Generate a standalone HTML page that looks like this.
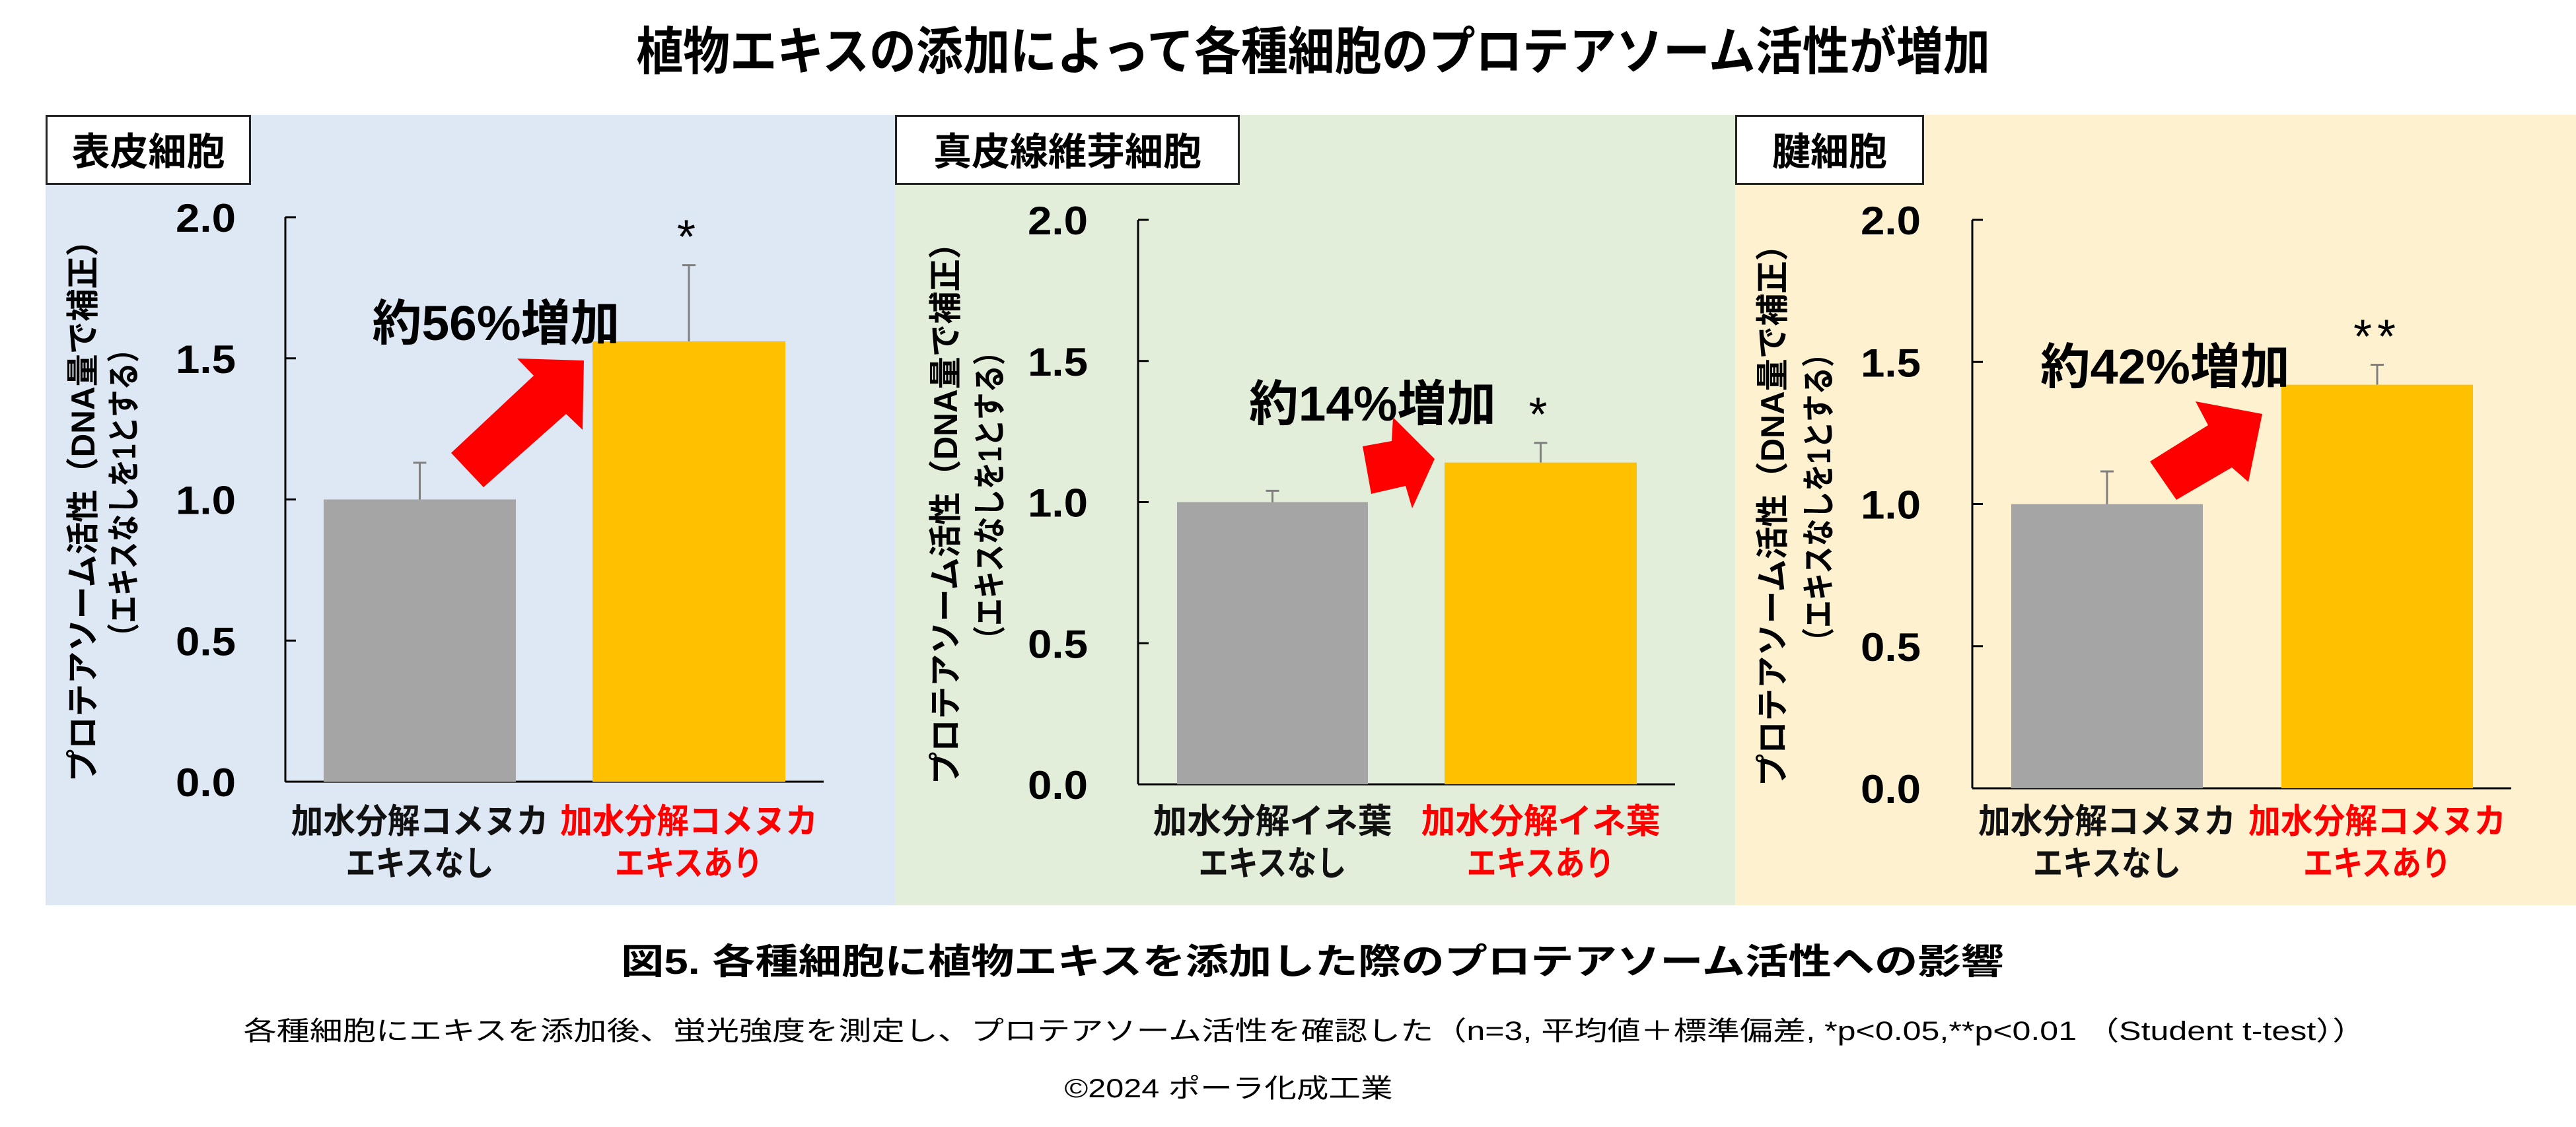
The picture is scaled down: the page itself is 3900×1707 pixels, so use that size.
<!DOCTYPE html>
<html><head><meta charset="utf-8">
<style>
html,body{margin:0;padding:0;background:#fff;}
svg{display:block;font-family:"Liberation Sans","Noto Sans CJK JP",sans-serif;}
</style></head>
<body>
<svg id="chart" width="3900" height="1707" viewBox="0 0 3900 1707" xmlns="http://www.w3.org/2000/svg">
<text x="1988" y="105" font-size="78" font-weight="bold" text-anchor="middle" textLength="2050" lengthAdjust="spacingAndGlyphs">植物エキスの添加によって各種細胞のプロテアソーム活性が増加</text>
<g id="panels"></g>
<text x="1987" y="1475" font-size="54" font-weight="bold" text-anchor="middle" textLength="2094" lengthAdjust="spacingAndGlyphs">図5. 各種細胞に植物エキスを添加した際のプロテアソーム活性への影響</text>
<text x="1975" y="1575" font-size="40" text-anchor="middle" textLength="3213" lengthAdjust="spacingAndGlyphs">各種細胞にエキスを添加後、蛍光強度を測定し、プロテアソーム活性を確認した（n=3, 平均値＋標準偏差, *p&lt;0.05,**p&lt;0.01 （Student t-test））</text>
<text x="1860" y="1662" font-size="40" text-anchor="middle" textLength="497" lengthAdjust="spacingAndGlyphs">©2024 ポーラ化成工業</text>
</svg>
<script>
const panelTitles = ["表皮細胞", "真皮線維芽細胞", "腱細胞"];
const catTop = [["加水分解コメヌカ","加水分解コメヌカ"],["加水分解イネ葉","加水分解イネ葉"],["加水分解コメヌカ","加水分解コメヌカ"]];
const catBottom = ["エキスなし","エキスあり"];
const valuesCtrl = [1.0, 1.0, 1.0];
const valuesExt = [1.56, 1.14, 1.42];
const errCtrl = [0.13, 0.04, 0.115];
const errExt = [0.27, 0.07, 0.07];
const sigMarks = ["*", "*", "**"];
const increaseLabels = ["約56%増加", "約14%増加", "約42%増加"];
const yTicks = [0, 0.5, 1.0, 1.5, 2.0];
const yTickLabels = ["0.0", "0.5", "1.0", "1.5", "2.0"];

const layout = [
 {bg:"#dde8f4", bgL:69, bgR:1355, box:[69,380], ax:432, axEnd:1247, y0:1184, y2:329, b1:[490,781], b2:[897,1189], tickR:357, t1:125, t2:187, ann:[751,487,375], catW:[390,390], arrow:[[683,686],[808,569],[783,543],[884,546],[882,651],[857,627],[732,738]]},
 {bg:"#e2eed9", bgL:1355, bgR:2627, box:[1355,1877], ax:1723, axEnd:2536, y0:1188, y2:333, b1:[1782,2071], b2:[2187,2478], tickR:1647, t1:1431, t2:1498, ann:[2078,609,374], catW:[362,362], arrow:[[2063,676],[2107,668],[2109,632],[2172,695],[2138,770],[2128,736],[2076,748]]},
 {bg:"#fdf1d0", bgL:2627, bgR:3900, box:[2627,2913], ax:2986, axEnd:3802, y0:1194, y2:333, b1:[3045,3335], b2:[3454,3744], tickR:2908, t1:2683, t2:2753, ann:[3278,553,378], catW:[390,390], arrow:[[3255,699],[3343,644],[3324,608],[3425,627],[3404,730],[3379,708],[3295,757]]}
];
const NS="http://www.w3.org/2000/svg";
const root=document.getElementById('panels');
function mk(tag, attrs, parent, text){
  const e=document.createElementNS(NS,tag);
  for(const k in attrs) e.setAttribute(k, attrs[k]);
  if(text!==undefined) e.textContent=text;
  parent.appendChild(e); return e;
}
layout.forEach((L,i)=>{
  const g=mk('g',{},root);
  
  
  const bg=mk('rect',{x:L.bgL,y:174,width:L.bgR-L.bgL,height:1197,fill:L.bg},g);
  
  
  const box=mk('rect',{x:L.box[0]+1.5,y:175.5,width:L.box[1]-L.box[0]-3,height:103,fill:"#fff",stroke:"#222","stroke-width":3},g);
  
  
  const bt=mk('text',{x:(L.box[0]+L.box[1])/2,y:250,"font-size":58,"font-weight":"bold","text-anchor":"middle"},g,panelTitles[i]);
  
  
  const yS=v=>L.y0-(L.y0-L.y2)*v/2.0;
  const ax=mk('line',{x1:L.ax,y1:L.y2,x2:L.ax,y2:L.y0,stroke:"#000","stroke-width":3},g);
  
  
  const xa=mk('line',{x1:L.ax,y1:L.y0,x2:L.axEnd,y2:L.y0,stroke:"#000","stroke-width":3},g);
  
  
  yTicks.forEach((t,k)=>{
    const tk=mk('line',{x1:L.ax,y1:yS(t),x2:L.ax+16,y2:yS(t),stroke:"#000","stroke-width":3},g);
    
    
    const tl=mk('text',{x:L.tickR,y:yS(t)+22,"font-size":60,"font-weight":"bold","text-anchor":"end",textLength:91,lengthAdjust:"spacingAndGlyphs"},g,yTickLabels[k]);
    
    
  });
  const cy=(L.y0+L.y2)/2+5;
  const yt1=mk('text',{x:0,y:0,"font-size":50,"font-weight":"bold","text-anchor":"middle",transform:`translate(${L.t1+18},${cy}) rotate(-90)`,textLength:845,lengthAdjust:"spacingAndGlyphs"},g,"プロテアソーム活性（DNA量で補正）");
  
  
  const yt2=mk('text',{x:0,y:0,"font-size":50,"font-weight":"bold","text-anchor":"middle",transform:`translate(${L.t2+18},${cy-15}) rotate(-90)`,textLength:478,lengthAdjust:"spacingAndGlyphs"},g,"（エキスなしを1とする）");
  
  
  const vals=[valuesCtrl[i],valuesExt[i]], errs=[errCtrl[i],errExt[i]], bx=[L.b1,L.b2], cols=["#a5a5a5","#ffc000"];
  vals.forEach((v,k)=>{
    const cx=(bx[k][0]+bx[k][1])/2;
    const el=mk('line',{x1:cx,y1:yS(v),x2:cx,y2:yS(v+errs[k]),stroke:"#7f7f7f","stroke-width":3},g);
    
    
    const ec=mk('line',{x1:cx-10,y1:yS(v+errs[k]),x2:cx+10,y2:yS(v+errs[k]),stroke:"#7f7f7f","stroke-width":3},g);
    
    
    const r=mk('rect',{x:bx[k][0],y:yS(v),width:bx[k][1]-bx[k][0],height:L.y0-yS(v),fill:cols[k]},g);
    
    
    const c1=mk('text',{x:cx,y:1262,"font-size":52,"font-weight":"bold","text-anchor":"middle",fill:k?"#ff0000":"#111",textLength:L.catW[k],lengthAdjust:"spacingAndGlyphs"},g,catTop[i][k]);
    
    
    const c2=mk('text',{x:cx,y:1326,"font-size":52,"font-weight":"bold","text-anchor":"middle",fill:k?"#ff0000":"#111",textLength:224,lengthAdjust:"spacingAndGlyphs"},g,catBottom[k]);
    
    
  });
  const cx2=(L.b2[0]+L.b2[1])/2;
  const st=mk('text',{x:cx2,y:yS(valuesExt[i]+errExt[i])-18,"font-size":72,"text-anchor":"middle","letter-spacing":8},g,sigMarks[i]);
  
  
  const an=mk('text',{x:L.ann[0],y:L.ann[1]+28,"font-size":74,"font-weight":"bold","text-anchor":"middle",textLength:L.ann[2],lengthAdjust:"spacingAndGlyphs"},g,increaseLabels[i]);
  
  
  const ar=mk('polygon',{points:L.arrow.map(p=>p.join(',')).join(' '),fill:"#ff0000"},g);
  
  
});
</script>
</body></html>
